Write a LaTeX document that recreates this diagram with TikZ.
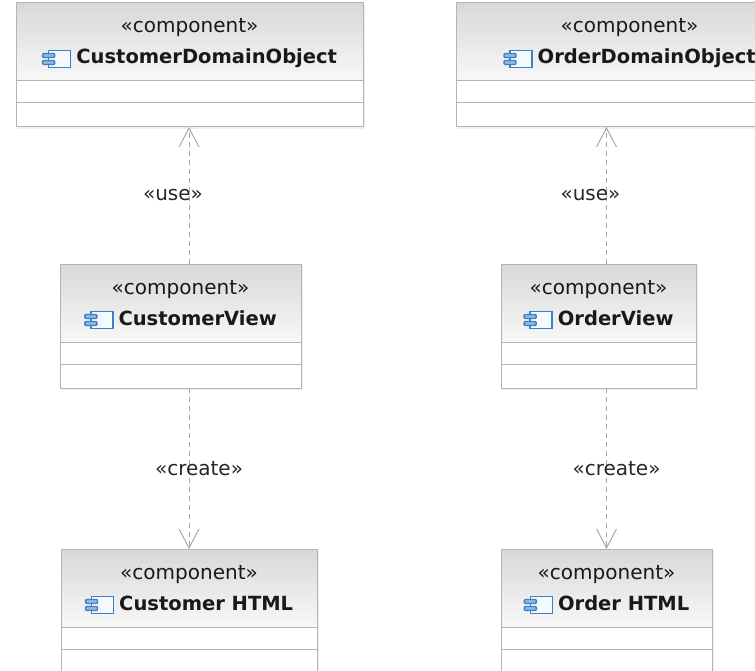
\documentclass[tikz,border=0pt]{standalone}
\usepackage{fontspec}
\setmainfont{DejaVu Sans}
\usetikzlibrary{positioning}
\usetikzlibrary{arrows.meta, shadows}

\definecolor{boxline}{HTML}{B4B4B4}
\definecolor{headtop}{HTML}{D8D8D8}
\definecolor{headbot}{HTML}{F8F8F8}
\definecolor{depline}{HTML}{A8A8A8}
\definecolor{iconblue}{HTML}{3F7FC4}
\definecolor{icontab}{HTML}{8DB8E2}
\definecolor{iconfill}{HTML}{F4F9FE}

\newcommand{\compicon}{\tikz[baseline=3.5pt, x=1pt, y=1pt, line width=1.4pt]{%
  \draw[iconblue, fill=iconfill] (6,0) rectangle (28,17);
  \draw[iconblue, fill=icontab, rounded corners=1pt] (0,3) rectangle (12,7);
  \draw[iconblue, fill=icontab, rounded corners=1pt] (0,10) rectangle (12,14);}}
\newcommand{\comptitle}[1]{\rule{0pt}{19pt}«component»\\\compicon\hspace{5pt}{\bfseries\fontsize{19.5}{31}\selectfont #1}\rule[-6pt]{0pt}{6pt}}

\begin{document}
\begin{tikzpicture}[x=1pt, y=-1pt, font=\fontsize{20}{31}\selectfont]
\tikzstyle{head} = [rectangle, draw=boxline, line width=1pt, top color=headtop, bottom color=headbot, minimum height=78pt, anchor=north west, inner sep=0pt, outer sep=0pt, align=center, text=black!90, drop shadow={shadow xshift=2pt, shadow yshift=-2pt, fill=black!12}]
\tikzstyle{slot} = [rectangle, draw=boxline, line width=1pt, fill=white, minimum height=22pt, inner sep=0pt, outer sep=0pt, drop shadow={shadow xshift=2pt, shadow yshift=-2pt, fill=black!12}]
\tikzstyle{dep} = [draw=depline, line width=1pt, dash pattern=on 5pt off 4pt, -{Straight Barb[length=19pt, width=20pt]}]
\tikzstyle{deplabel} = [text=black!85, inner sep=0pt]

\useasboundingbox (0,0) rectangle (755,671);
\clip (0,0) rectangle (755,671);

% customer column
\node (cdom) [head, minimum width=347pt] at (16,3) {\comptitle{CustomerDomainObject}};
\node (cdomattr) [slot, minimum width=347pt, below=0pt of cdom] {};
\node (cdomops) [slot, minimum width=347pt, minimum height=24pt, below=0pt of cdomattr] {};

\node (cview) [head, minimum width=241pt] at (60,264) {\comptitle{CustomerView}};
\node (cviewattr) [slot, minimum width=241pt, below=0pt of cview] {};
\node (cviewops) [slot, minimum width=241pt, minimum height=24pt, below=0pt of cviewattr] {};

\node (chtml) [head, minimum width=256pt] at (61,549) {\comptitle{Customer HTML}};
\node (chtmlattr) [slot, minimum width=256pt, below=0pt of chtml] {};
\node (chtmlops) [slot, minimum width=256pt, minimum height=26pt, below=0pt of chtmlattr] {};

% order column
\node (odom) [head, minimum width=347pt] at (456,3) {\comptitle{OrderDomainObject}};
\node (odomattr) [slot, minimum width=347pt, below=0pt of odom] {};
\node (odomops) [slot, minimum width=347pt, minimum height=24pt, below=0pt of odomattr] {};

\node (oview) [head, minimum width=195pt] at (501,264) {\comptitle{OrderView}};
\node (oviewattr) [slot, minimum width=195pt, below=0pt of oview] {};
\node (oviewops) [slot, minimum width=195pt, minimum height=24pt, below=0pt of oviewattr] {};

\node (ohtml) [head, minimum width=211pt] at (501,549) {\comptitle{Order HTML}};
\node (ohtmlattr) [slot, minimum width=211pt, below=0pt of ohtml] {};
\node (ohtmlops) [slot, minimum width=211pt, minimum height=26pt, below=0pt of ohtmlattr] {};

% dependencies
\draw [dep] (cview.north -| chtml) -- (cdomops.south -| chtml) node [deplabel, midway, xshift=-16pt] {«use»};
\draw [dep] (cviewops.south -| chtml) -- (chtml.north) node [deplabel, midway, xshift=10pt] {«create»};
\draw [dep] (oview.north -| ohtml) -- (odomops.south -| ohtml) node [deplabel, midway, xshift=-16pt] {«use»};
\draw [dep] (oviewops.south -| ohtml) -- (ohtml.north) node [deplabel, midway, xshift=10pt] {«create»};
\end{tikzpicture}
\end{document}
